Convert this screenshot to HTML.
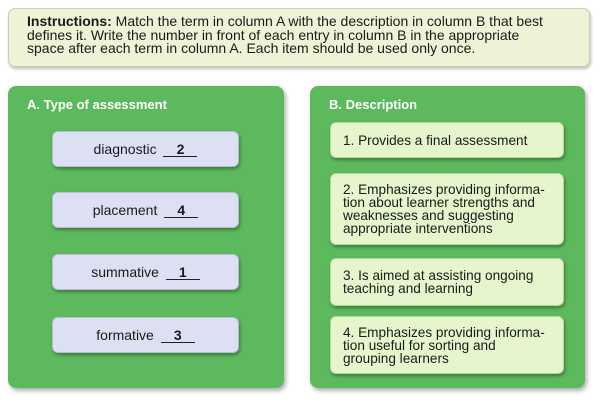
<!DOCTYPE html>
<html><head><style>
body{margin:0;width:600px;height:402px;background:#fff;font-family:"Liberation Sans",sans-serif;position:relative;overflow:hidden;color:#1a1a1a}
.abs{position:absolute;box-sizing:border-box}
.instr{left:8px;top:8px;width:582px;height:59px;background:#eef2d6;border:1px solid #c9cfa6;border-radius:7px;box-shadow:1px 2px 3px rgba(0,0,0,.25);padding:6px 0 0 18px;font-size:14px;line-height:13.5px;white-space:nowrap}
.panel{background:#5db95d;border-radius:8px;box-shadow:2px 3px 4px rgba(0,0,0,.3)}
.ph{color:#fff;font-weight:bold;font-size:13px}
.btn{left:52px;width:187px;height:36px;background:#dde0f3;border:1px solid #b9bdd6;border-radius:6px;box-shadow:1px 2px 3px rgba(0,0,0,.35);font-size:14px;text-align:center;line-height:34px}
.btn b{display:inline-block;width:34px;border-bottom:1px solid #222;line-height:13px;text-align:center;margin-left:3px}
.desc{left:330px;width:234px;background:#e5f5cc;border:1px solid #b8d39c;border-radius:6px;box-shadow:1px 2px 3px rgba(0,0,0,.35);font-size:13.6px;line-height:13px;padding:0 0 0 12px;display:flex;align-items:center;white-space:nowrap}
</style></head><body>
<div class="abs instr"><b>Instructions:</b> Match the term in column A with the description in column B that best<br>defines it. Write the number in front of each entry in column B in the appropriate<br>space after each term in column A. Each item should be used only once.</div>
<div class="abs panel" style="left:8px;top:86px;width:276px;height:302px"></div>
<div class="abs ph" style="left:27px;top:97px">A. Type of assessment</div>
<div class="abs panel" style="left:310px;top:86px;width:275px;height:302px"></div>
<div class="abs ph" style="left:329px;top:97px">B. Description</div>
<div class="abs btn" style="top:131px">diagnostic <b>2</b></div>
<div class="abs btn" style="top:192px">placement <b>4</b></div>
<div class="abs btn" style="top:254px">summative <b>1</b></div>
<div class="abs btn" style="top:317px">formative <b>3</b></div>
<div class="abs desc" style="top:122px;height:36px">1. Provides a final assessment</div>
<div class="abs desc" style="top:173px;height:72px">2. Emphasizes providing informa-<br>tion about learner strengths and<br>weaknesses and suggesting<br>appropriate interventions</div>
<div class="abs desc" style="top:258px;height:48px">3. Is aimed at assisting ongoing<br>teaching and learning</div>
<div class="abs desc" style="top:316px;height:58px">4. Emphasizes providing informa-<br>tion useful for sorting and<br>grouping learners</div>
</body></html>
